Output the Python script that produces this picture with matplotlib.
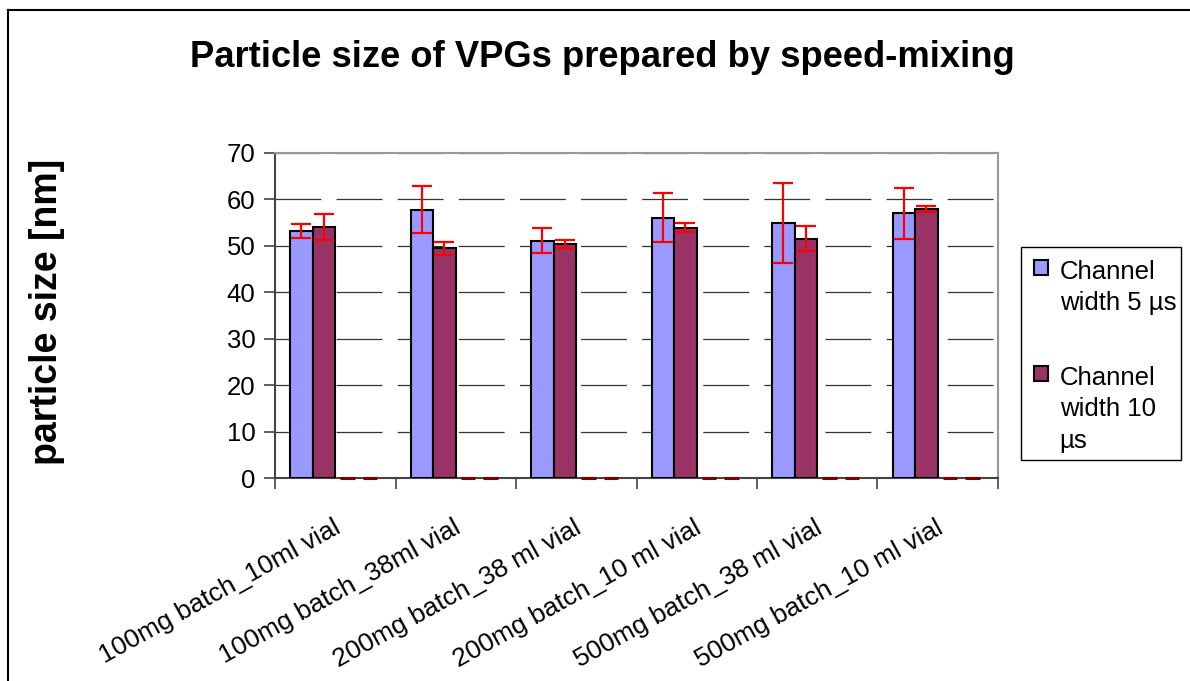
import numpy as np
import matplotlib
matplotlib.use("Agg")
import matplotlib.pyplot as plt
from matplotlib.lines import Line2D
from matplotlib.patches import Rectangle

plt.rcParams["font.family"] = ["Liberation Sans", "DejaVu Sans"]
plt.rcParams["lines.scale_dashes"] = False

# data
categories = ["100mg batch_10ml vial", "100mg batch_38ml vial",
              "200mg batch_38 ml vial", "200mg batch_10 ml vial",
              "500mg batch_38 ml vial", "500mg batch_10 ml vial"]
width5 = [53.2, 57.8, 51.1, 56.1, 54.9, 57.0]
width5_err = [1.5, 5.1, 2.65, 5.3, 8.55, 5.45]
width10 = [54.1, 49.5, 50.4, 53.9, 51.5, 58.0]
width10_err = [2.8, 1.4, 0.9, 1.0, 2.7, 0.65]
series3 = [0, 0, 0, 0, 0, 0]
series4 = [0, 0, 0, 0, 0, 0]
yticks = [0, 10, 20, 30, 40, 50, 60, 70]


def main():
    fig = plt.figure(figsize=(11.9, 6.81), dpi=100)
    ax = fig.add_axes([275 / 1190, 1 - 478 / 681, 723 / 1190, 325 / 681])

    x = np.arange(len(categories))
    bw = 0.1875
    left = x - 0.5 + 0.125

    ax.bar(left, width5, bw, align="edge", color="#9999FF",
           edgecolor="black", linewidth=1.5, label="Channel\nwidth 5 µs", zorder=3)
    ax.bar(left + bw, width10, bw, align="edge", color="#993366",
           edgecolor="black", linewidth=1.5, label="Channel\nwidth 10\nµs", zorder=3)
    # two empty series show up only as short dark red strokes on the baseline
    ax.bar(left + 2 * bw + 0.04, series3, bw * 0.65, align="edge", color="none",
           edgecolor="#800000", linewidth=2.2, zorder=6, clip_on=False)
    ax.bar(left + 3 * bw + 0.04, series4, bw * 0.65, align="edge", color="none",
           edgecolor="#800000", linewidth=2.2, zorder=6, clip_on=False)

    ax.errorbar(left + bw / 2, width5, yerr=width5_err, fmt="none",
                ecolor="red", elinewidth=1.6, capsize=7, capthick=1.6, zorder=5)
    ax.errorbar(left + 1.5 * bw, width10, yerr=width10_err, fmt="none",
                ecolor="red", elinewidth=1.6, capsize=7, capthick=1.6, zorder=5)

    ax.set_xlim(-0.5, len(categories) - 0.5)
    ax.set_ylim(0, 70)
    ax.set_yticks(yticks)
    ax.tick_params(axis="y", labelsize=18.5, length=8, width=1.2,
                   color="#444444", pad=6)

    # tick marks at category boundaries, rotated names under each centre
    ax.set_xticks(np.arange(len(categories) + 1) - 0.5)
    ax.set_xticklabels([])
    ax.tick_params(axis="x", length=8, width=1.2, color="#444444")
    for xi, name in zip(x, categories):
        ax.annotate(name, xy=(xi, 0), xycoords=("data", "axes fraction"),
                    xytext=(-2, -27), textcoords="offset points",
                    fontsize=19, rotation=29, ha="right", va="top",
                    rotation_mode="anchor", annotation_clip=False)

    ax.yaxis.grid(True, color="#333333", linewidth=0.9,
                  linestyle=(0, (33, 11)), zorder=0)
    ax.set_axisbelow(True)

    for side in ["left", "bottom"]:
        ax.spines[side].set_color("#444444")
        ax.spines[side].set_linewidth(1.5)
    for side in ["top", "right"]:
        ax.spines[side].set_color("#999999")
        ax.spines[side].set_linewidth(1.5)

    fig.text(0.506, 0.916, "Particle size of VPGs prepared by speed-mixing",
             fontsize=26.2, fontweight="bold", ha="center", va="center")
    fig.text(0.0395, 0.542, "particle size [nm]", fontsize=27,
             fontweight="bold", rotation=90, ha="center", va="center")

    leg = ax.legend(loc="upper left", bbox_to_anchor=(1021 / 1190, 1 - 247 / 681),
                    bbox_transform=fig.transFigure, borderaxespad=0,
                    fontsize=18.5, frameon=False, borderpad=0.5,
                    handlelength=0.55, handleheight=0.55, handletextpad=0.45,
                    labelspacing=1.95)
    for t in leg.get_texts():
        t.set_linespacing(1.4)
    for col in leg._legend_handle_box.get_children():
        for row in col.get_children():
            row.align = "top"
    # legend box as drawn in the reference (tight on the right side)
    fig.add_artist(Rectangle((1021 / 1190, 1 - 460 / 681), 160 / 1190, 213 / 681,
                             transform=fig.transFigure, fill=False,
                             edgecolor="black", linewidth=1.0))

    # outer frame of the chart object
    fig.add_artist(Line2D([8 / 1190, 8 / 1190], [0, 1 - 10 / 681],
                          transform=fig.transFigure, color="black", lw=1.5))
    fig.add_artist(Line2D([8 / 1190, 1], [1 - 10 / 681, 1 - 10 / 681],
                          transform=fig.transFigure, color="black", lw=1.5))

    fig.savefig("out.png", dpi=100)


if __name__ == "__main__":
    main()
